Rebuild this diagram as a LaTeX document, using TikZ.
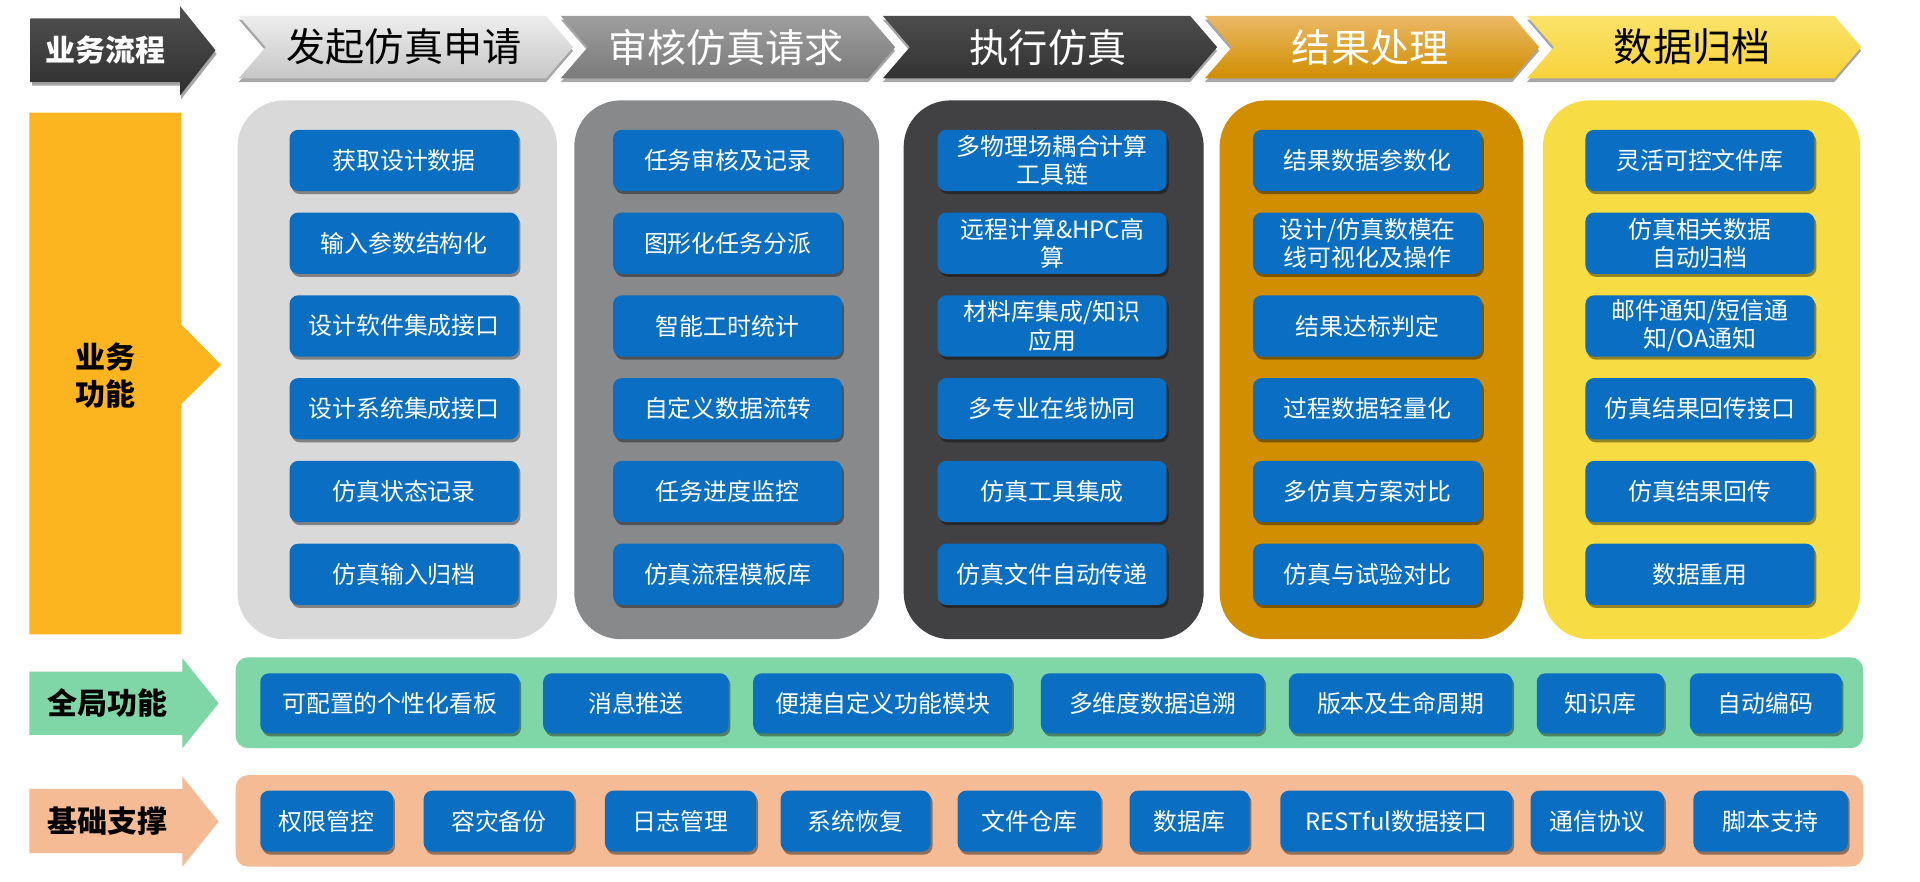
\documentclass[tikz,border=0pt]{standalone}
\usepackage{fontspec}
\setmainfont{Noto Sans CJK SC}
\usetikzlibrary{shadows}
\definecolor{boxblue}{HTML}{0A6FC2}
\definecolor{panA}{HTML}{D9D9D9}
\definecolor{panB}{HTML}{88898B}
\definecolor{panC}{HTML}{414143}
\definecolor{panD}{HTML}{D08E00}
\definecolor{panE}{HTML}{F8DC43}
\definecolor{lblorange}{HTML}{FDB51F}
\definecolor{greenbar}{HTML}{7FD7A7}
\definecolor{peachbar}{HTML}{F4BB94}
\newcommand\mychev[5]{%
  \path[chevshape,#2] (#1,13) -- ({#1+251},13) -- ({#1+273},38.5) -- ({#1+251},64) -- (#1,64) -- ({#1+22},38.5) -- cycle;
  \node[chevtext,#3] (#4) at ({#1+135},38.5) {#5};}
\begin{document}
\begin{tikzpicture}[x=1pt,y=-1pt,
  bbox/.style={rounded corners=7pt, fill=boxblue, text=white, inner sep=0pt, align=center,
    font=\fontsize{19.5}{23}\selectfont,
    drop shadow={shadow xshift=1.5pt,shadow yshift=-2.5pt,opacity=.4,fill=black}},
  lbl/.style={font=\fontsize{24.5}{30.6}\selectfont\bfseries, align=center, inner sep=0pt},
  chevtext/.style={font=\fontsize{32}{36}\selectfont, inner sep=0pt},
  chevshape/.style={drop shadow={shadow xshift=0pt,shadow yshift=-3pt,opacity=.35,fill=black}},
  panel/.style={rounded corners=38pt},
  bar/.style={rounded corners=10pt},
]
\useasboundingbox (0,0) rectangle (1568,719.5);
\fill[white] (0,0) rectangle (1568,719.5);

% process header
\path[top color=black!68, bottom color=black!82,
  drop shadow={shadow xshift=1pt,shadow yshift=-3pt,opacity=.35,fill=black}]
  (25,15) -- (147,15) -- (147,5) -- (176,41) -- (147,78) -- (147,67) -- (25,67) -- cycle;
\node[lbl,text=white] (hdr) at (86,41) {业务流程};

\mychev{195}{top color=black!7, bottom color=black!22}{text=black}{c1}{发起仿真申请}
\mychev{458}{top color=black!38, bottom color=black!52}{text=white}{c2}{审核仿真请求}
\mychev{721}{top color=black!70, bottom color=black!80}{text=white}{c3}{执行仿真}
\mychev{984}{top color=panD!70!orange!60!white, bottom color=panD}{text=white}{c4}{结果处理}
\mychev{1247}{top color=panE!80!white, bottom color=panE!90!orange}{text=black}{c5}{数据归档}

% business function label
\fill[lblorange] (24,92) -- (148,92) -- (148,265) -- (180.5,298) -- (148,330) -- (148,518) -- (24,518) -- cycle;
\node[lbl] (bf) at (86,306.8) {业务\\功能};

% panels
\fill[panel,panA] (194,82) rectangle (455,522);
\fill[panel,panB] (469,82) rectangle (718,522);
\fill[panel,panC] (738,82) rectangle (983,522);
\fill[panel,panD] (996,82) rectangle (1244,522);
\fill[panel,panE] (1260,82) rectangle (1519,522);

% boxes
\foreach \cx/\col/\items in {
  330/1/{获取设计数据,输入参数结构化,设计软件集成接口,设计系统集成接口,仿真状态记录,仿真输入归档},
  594.2/2/{任务审核及记录,图形化任务分派,智能工时统计,自定义数据流转,任务进度监控,仿真流程模板库},
  859.3/3/{{多物理场耦合计算\\工具链},{远程计算\&HPC高\\算},{材料库集成/知识\\应用},多专业在线协同,仿真工具集成,仿真文件自动传递},
  1116.8/4/{结果数据参数化,{设计/仿真数模在\\线可视化及操作},结果达标判定,过程数据轻量化,多仿真方案对比,仿真与试验对比},
  1388.3/5/{灵活可控文件库,{仿真相关数据\\自动归档},{邮件通知/短信通\\知/OA通知},仿真结果回传接口,仿真结果回传,数据重用}}{
  \foreach \t [count=\i] in \items {
    \node[bbox, minimum width=187pt, minimum height=50pt] (b\col-\i) at (\cx,{131+67.6*(\i-1)}) {\t};
  }
}

% global functions
\fill[greenbar] (24,548.5) -- (149,548.5) -- (149,537.6) -- (178.5,574.3) -- (149,611) -- (149,600.2) -- (24,600.2) -- cycle;
\node[lbl] (gl) at (88,574.3) {全局功能};
\fill[bar,greenbar] (192.5,536.8) rectangle (1521.5,611);
\foreach \cx/\w/\t [count=\i] in {318.3/211.5/可配置的个性化看板, 519.3/151.5/消息推送, 720.8/211.5/便捷自定义功能模块,
  941.3/182.5/多维度数据追溯, 1143.8/182.5/版本及生命周期, 1307/104/知识库, 1442/124/自动编码}{
  \node[bbox, minimum width=\w pt, minimum height=49pt] (g\i) at (\cx,574.4) {\t};
}

% basic support
\fill[peachbar] (24,644.3) -- (149,644.3) -- (149,634.2) -- (178.5,671) -- (149,707.7) -- (149,696.8) -- (24,696.8) -- cycle;
\node[lbl] (bl) at (88,671) {基础支撑};
\fill[bar,peachbar] (192.5,633) rectangle (1521.5,707.7);
\foreach \cx/\w/\t [count=\i] in {266.8/108.5/权限管控, 407.5/123/容灾备份, 555.8/123.5/日志管理, 698.8/122.5/系统恢复,
  840.5/117/文件仓库, 971.5/98/数据库, 1140.3/189.5/RESTful数据接口, 1304.5/109/通信协议, 1446/126/脚本支持}{
  \node[bbox, minimum width=\w pt, minimum height=49.8pt] (s\i) at (\cx,670.6) {\t};
}
\end{tikzpicture}
\end{document}
